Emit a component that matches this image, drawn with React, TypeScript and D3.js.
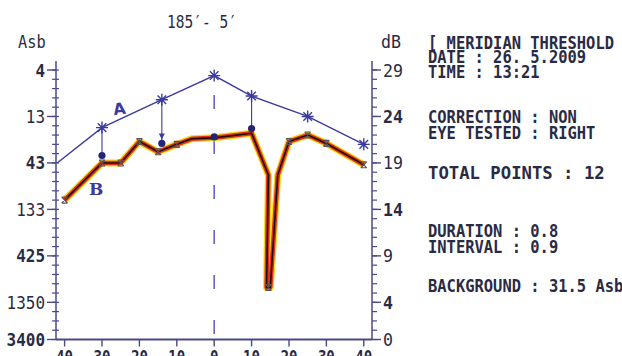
import React, { useEffect, useRef } from "react";
import * as d3 from "d3";

// curve A (expected / normal values), dB
const aDeg = [-42, -30, -14, 0, 10, 25, 40];
const aVal = [19.0, 22.8, 25.8, 28.4, 26.2, 24.0, 21.0];
const aStar = [false, true, true, true, true, true, true];

// curve B (measured threshold profile), dB
const bDeg = [-40, -30, -25, -20, -15, -10, -6, 0, 10, 14.5, 14, 15, 17, 20, 25, 30, 40];
const bVal = [15.0, 19.0, 19.0, 21.3, 20.2, 21.0, 21.6, 21.7, 22.2, 17.7, 5.6, 5.6, 17.7, 21.3, 22.0, 21.1, 18.8];
const bMarkDeg = [-40, -30, -25, -20, -15, -10, 14.5, 20, 25, 30, 40];
const bMarkVal = [15.0, 19.0, 19.0, 21.3, 20.2, 21.0, 5.6, 21.3, 22.0, 21.1, 18.8];

// measured points linked to curve A
const dotDeg = [-30, -14, 0, 10];
const dotVal = [19.8, 21.1, 21.8, 22.7];

// axes
const dbTicks = [29, 24, 19, 14, 9, 4, 0];
const asbLabels = ["4", "13", "43", "133", "425", "1350", "3400"];
const xTicks = [-40, -30, -20, -10, 0, 10, 20, 30, 40];
const xLabels = ["40", "30", "20", "10", "0", "10", "20", "30", "40"];

const infoLines = [
  "[ MERIDIAN THRESHOLD",
  "DATE : 26. 5.2009",
  "TIME : 13:21",
  "CORRECTION : NON",
  "EYE TESTED : RIGHT",
  "TOTAL POINTS  :  12",
  "DURATION : 0.8",
  "INTERVAL : 0.9",
  "BACKGROUND : 31.5 Asb",
];
const infoBase = [49, 63, 78, 123, 139, 179, 237, 253, 292];

const FONT = "'DejaVu Sans Mono', 'Liberation Mono', monospace";

export default function App() {
  const ref = useRef<SVGSVGElement>(null);

  useEffect(() => {
    const svg = d3.select(ref.current);
    svg.selectAll("*").remove();

    const x = d3.scaleLinear().domain([-42.3, 42.2]).range([56, 372]);
    const y = d3.scaleLinear().domain([0, 29]).range([339.5, 70]);
    const axisCol = "#4a4a86";
    const blue = "#3b3b9e";
    const txtCol = "#2a2a44";

    const mono = (t: string, px: number, py: number, perChar: number, size: number, anchor = "start", weight = "bold") => {
      svg.append("text")
        .attr("x", px).attr("y", py)
        .attr("text-anchor", anchor)
        .attr("font-family", FONT)
        .attr("font-size", size)
        .attr("font-weight", weight)
        .attr("fill", txtCol)
        .attr("textLength", t.length * perChar)
        .attr("lengthAdjust", "spacingAndGlyphs")
        .text(t);
    };

    // frame axes
    const top = 61;
    svg.append("line").attr("x1", 56).attr("x2", 56).attr("y1", top).attr("y2", y(0))
      .attr("stroke", axisCol).attr("stroke-width", 1.5);
    svg.append("line").attr("x1", 372).attr("x2", 372).attr("y1", top).attr("y2", y(0))
      .attr("stroke", axisCol).attr("stroke-width", 1.5);
    svg.append("line").attr("x1", 56).attr("x2", 372).attr("y1", y(0)).attr("y2", y(0))
      .attr("stroke", axisCol).attr("stroke-width", 1.8);

    // minor ticks every dB
    d3.range(0, 30).forEach(d => {
      svg.append("line").attr("x1", 52).attr("x2", 59).attr("y1", y(d)).attr("y2", y(d))
        .attr("stroke", axisCol).attr("stroke-width", 1.2);
      svg.append("line").attr("x1", 372).attr("x2", 377).attr("y1", y(d)).attr("y2", y(d))
        .attr("stroke", axisCol).attr("stroke-width", 1.2);
    });

    // major ticks + labels
    dbTicks.forEach((d, i) => {
      svg.append("line").attr("x1", 47).attr("x2", 56).attr("y1", y(d)).attr("y2", y(d))
        .attr("stroke", axisCol).attr("stroke-width", 1.4);
      svg.append("line").attr("x1", 372).attr("x2", 381).attr("y1", y(d)).attr("y2", y(d))
        .attr("stroke", axisCol).attr("stroke-width", 1.4);
      const lab = asbLabels[i];
      mono(lab, 45 - lab.length * 9.6, y(d) + 6.5, 9.6, 17, "start", i % 2 === 0 ? "bold" : "normal");
      mono(String(d), 383, y(d) + 6.5, 10, 17, "start", i % 2 === 0 ? "normal" : "bold");
    });

    // x ticks and labels (cut by the page bottom)
    xTicks.forEach((d, i) => {
      svg.append("line").attr("x1", x(d)).attr("x2", x(d)).attr("y1", y(0)).attr("y2", y(0) + 7)
        .attr("stroke", axisCol).attr("stroke-width", 1.4);
      mono(xLabels[i], x(d), 363, 8.5, 17, "middle");
    });

    // titles
    svg.append("text").attr("x", 202).attr("y", 28).attr("text-anchor", "middle")
      .attr("font-family", FONT).attr("font-size", 17).attr("fill", txtCol)
      .attr("textLength", 70).attr("lengthAdjust", "spacingAndGlyphs")
      .text("185\u2032- 5\u2032");
    mono("Asb", 18, 48, 9.2, 17, "start", "normal");
    mono("dB", 381, 48, 10, 17, "start", "normal");

    // info block
    infoLines.forEach((t, i) => mono(t, 428, infoBase[i], 9.3, 17.5));

    // centre dashed line
    svg.append("line").attr("x1", x(0)).attr("x2", x(0)).attr("y1", 95).attr("y2", y(0))
      .attr("stroke", "#5c5cc0").attr("stroke-width", 1.5)
      .attr("stroke-dasharray", "14,31");

    // curve A
    const lineA = d3.line<number>().x((d, i) => x(aDeg[i])).y(d => y(d));
    svg.append("path").attr("d", lineA(aVal)).attr("fill", "none")
      .attr("stroke", blue).attr("stroke-width", 1.4);

    // links A -> measured dot
    dotDeg.forEach((d, i) => {
      const j = aDeg.indexOf(d);
      if (j < 0 || d === 0) return;
      svg.append("line").attr("x1", x(d)).attr("x2", x(d)).attr("y1", y(aVal[j])).attr("y2", y(dotVal[i]) - 3)
        .attr("stroke", blue).attr("stroke-width", 1.1);
      if (d === -14) {
        const px = x(d), py = y(dotVal[i]) - 4;
        svg.append("path").attr("d", `M${px - 3},${py - 6}L${px + 3},${py - 6}L${px},${py}Z`).attr("fill", blue);
      }
    });

    // curve B: yellow halo, red, black core
    const lineB = d3.line<number>().x((d, i) => x(bDeg[i])).y(d => y(d));
    const pathB = lineB(bVal);
    svg.append("path").attr("d", pathB).attr("fill", "none").attr("stroke", "#f4dc1a")
      .attr("stroke-width", 7).attr("stroke-linejoin", "round");
    svg.append("path").attr("d", pathB).attr("fill", "none").attr("stroke", "#e2301c")
      .attr("stroke-width", 4.5).attr("stroke-linejoin", "round");
    svg.append("path").attr("d", pathB).attr("fill", "none").attr("stroke", "#1a1010")
      .attr("stroke-width", 1.6).attr("stroke-linejoin", "round");

    // B markers
    bMarkDeg.forEach((d, i) => {
      const px = x(d), py = y(bMarkVal[i]);
      const s = 3;
      svg.append("path")
        .attr("d", `M${px - s},${py - s}L${px + s},${py + s}M${px + s},${py - s}L${px - s},${py + s}M${px - s},${py - s}L${px + s},${py - s}M${px - s},${py + s}L${px + s},${py + s}`)
        .attr("stroke", "#555").attr("stroke-width", 1.1).attr("fill", "none");
    });

    // A asterisks
    aDeg.forEach((d, i) => {
      if (!aStar[i]) return;
      const px = x(d), py = y(aVal[i]);
      const r = 6, q = 4.3;
      svg.append("path")
        .attr("d", `M${px},${py - r}L${px},${py + r}M${px - r},${py}L${px + r},${py}M${px - q},${py - q}L${px + q},${py + q}M${px + q},${py - q}L${px - q},${py + q}`)
        .attr("stroke", blue).attr("stroke-width", 1.4).attr("fill", "none");
    });

    // measured dots
    dotDeg.forEach((d, i) => {
      svg.append("circle").attr("cx", x(d)).attr("cy", y(dotVal[i])).attr("r", 3.6)
        .attr("fill", "#24247a");
    });

    // curve letters
    svg.append("text").attr("x", 113).attr("y", 114).attr("font-family", "'DejaVu Sans', sans-serif")
      .attr("font-weight", "bold").attr("font-size", 16).attr("fill", blue)
      .attr("transform", "rotate(-8,123,108)").text("A");
    svg.append("text").attr("x", 89).attr("y", 195).attr("font-family", "'DejaVu Serif', serif")
      .attr("font-weight", "bold").attr("font-size", 17).attr("fill", blue).text("B");
  }, []);

  return (
    <svg ref={ref} width={622} height={356}
      style={{ position: "absolute", left: 0, top: 0, background: "#fff" }} />
  );
}
